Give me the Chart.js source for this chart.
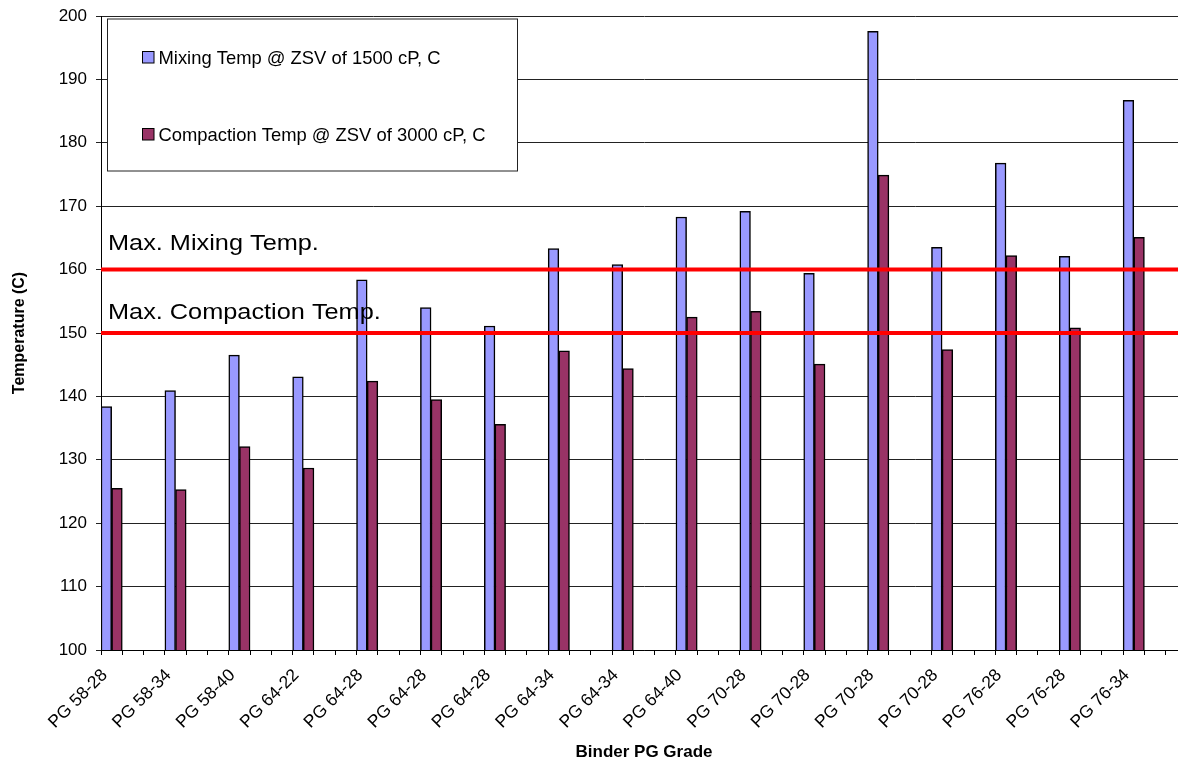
<!DOCTYPE html>
<html>
<head>
<meta charset="utf-8">
<title>Mixing and Compaction Temperatures by Binder PG Grade</title>
<style>
  html, body { margin: 0; padding: 0; overflow: hidden; background: #ffffff; }
  #wrap { width: 1200px; height: 764px; }
</style>
<script src="https://cdn.jsdelivr.net/npm/chart.js@4.4.1/dist/chart.umd.min.js"></script>
</head>
<body>
<div id="wrap"><canvas id="chart" width="1200" height="764"></canvas></div>
<script>
// Binder grades along the category axis
const grades = [
  'PG 58-28', 'PG 58-34', 'PG 58-40', 'PG 64-22', 'PG 64-28', 'PG 64-28',
  'PG 64-28', 'PG 64-34', 'PG 64-34', 'PG 64-40', 'PG 70-28', 'PG 70-28',
  'PG 70-28', 'PG 70-28', 'PG 76-28', 'PG 76-28', 'PG 76-34'
];

// Temperatures (C) at zero-shear viscosity targets
const mixingTemp = [
  138.4, 140.9, 146.5, 143.1, 158.4, 154.0, 151.1, 163.3, 160.8,
  168.3, 169.2, 159.4, 197.6, 163.5, 176.8, 162.1, 186.7
];
const compactionTemp = [
  125.5, 125.3, 132.1, 128.7, 142.4, 139.5, 135.6, 147.2, 144.4,
  152.5, 153.4, 145.1, 174.9, 147.4, 162.2, 150.8, 165.1
];

// Specification limits drawn as horizontal red lines
const limitTemps = [160, 150];
const limitNames = ['Max. Mixing Temp.', 'Max. Compaction Temp.'];

// Value axis range
const tempMin = 100;
const tempMax = 200;
const tempStep = 10;

const seriesNames = ['Mixing Temp @ ZSV of 1500 cP, C', 'Compaction Temp @ ZSV of 3000 cP, C'];

// Each grade occupies one slot followed by two blank slots on the axis
const SLOTS_PER_GRADE = 3;
const TOTAL_SLOTS = grades.length * SLOTS_PER_GRADE;
const slotLabels = new Array(TOTAL_SLOTS).fill('');
const mixingSlots = new Array(TOTAL_SLOTS).fill(null);
const compactionSlots = new Array(TOTAL_SLOTS).fill(null);
grades.forEach((g, i) => {
  const k = i * SLOTS_PER_GRADE;
  slotLabels[k] = g;
  mixingSlots[k] = mixingTemp[i];
  compactionSlots[k] = compactionTemp[i];
});

const FONT = '"Liberation Sans", Arial, Helvetica, sans-serif';

// Draws the limit lines with their captions and the boxed legend
const overlayPlugin = {
  id: 'overlay',
  afterDatasetsDraw(chart, args, opts) {
    const { ctx, chartArea: a, scales: { y } } = chart;
    ctx.save();

    limitTemps.forEach((t, i) => {
      const py = y.getPixelForValue(t);
      ctx.strokeStyle = '#ff0000';
      ctx.lineWidth = 4;
      ctx.beginPath();
      ctx.moveTo(a.left, py);
      ctx.lineTo(a.right, py);
      ctx.stroke();

      ctx.save();
      ctx.font = '22px ' + FONT;
      ctx.fillStyle = '#000000';
      ctx.textBaseline = 'alphabetic';
      ctx.textAlign = 'left';
      ctx.translate(a.left + 7, py - opts.captionLift[i]);
      ctx.scale(1.15, 1);
      ctx.fillText(limitNames[i], 0, 0);
      ctx.restore();
    });

    // legend box
    const bx = a.left + 6.5, by = a.top + 3, bw = 410, bh = 152;
    ctx.fillStyle = '#ffffff';
    ctx.fillRect(bx, by, bw, bh);
    ctx.strokeStyle = '#222222';
    ctx.lineWidth = 1;
    ctx.strokeRect(bx, by, bw, bh);

    ctx.font = '18.4px ' + FONT;
    ctx.textBaseline = 'middle';
    ctx.textAlign = 'left';
    chart.data.datasets.forEach((ds, i) => {
      const cy = by + 38.5 + i * 77;
      ctx.fillStyle = ds.backgroundColor;
      ctx.fillRect(bx + 35, cy - 6, 11.5, 11.5);
      ctx.strokeStyle = '#000000';
      ctx.strokeRect(bx + 35, cy - 6, 11.5, 11.5);
      ctx.fillStyle = '#000000';
      ctx.fillText(ds.label, bx + 51, cy + 1);
    });

    ctx.restore();
  }
};

new Chart(document.getElementById('chart'), {
  type: 'bar',
  data: {
    labels: slotLabels,
    datasets: [
      {
        label: seriesNames[0],
        data: mixingSlots,
        backgroundColor: '#9999ff',
        borderColor: '#000000',
        borderWidth: 1.5,
        categoryPercentage: 1,
        barPercentage: 1
      },
      {
        label: seriesNames[1],
        data: compactionSlots,
        backgroundColor: '#993366',
        borderColor: '#000000',
        borderWidth: 1.5,
        categoryPercentage: 1,
        barPercentage: 1
      }
    ]
  },
  options: {
    responsive: false,
    animation: false,
    devicePixelRatio: 1,
    layout: { padding: { top: 16, right: 13, left: 0, bottom: 0 } },
    plugins: {
      legend: { display: false },
      tooltip: { enabled: false },
      overlay: { captionLift: [20, 14] }
    },
    scales: {
      x: {
        type: 'category',
        offset: true,
        grid: {
          offset: true,
          drawOnChartArea: false,
          drawTicks: true,
          tickLength: 5,
          color: '#000000',
          lineWidth: 1
        },
        border: { color: '#000000', width: 1 },
        ticks: {
          autoSkip: false,
          minRotation: 45,
          maxRotation: 45,
          padding: 10,
          labelOffset: -7,
          color: '#000000',
          font: { family: FONT, size: 17.5 }
        },
        title: {
          display: true,
          text: 'Binder PG Grade',
          color: '#000000',
          font: { family: FONT, size: 17, weight: 'bold' },
          padding: { top: 0, bottom: 1 }
        },
        afterFit(scale) {
          scale.height = 114;
          scale.paddingLeft = 0;
          scale.paddingRight = 0;
        }
      },
      y: {
        min: tempMin,
        max: tempMax,
        grid: { color: '#222222', lineWidth: 1, tickLength: 5 },
        border: { color: '#000000', width: 1 },
        ticks: {
          stepSize: tempStep,
          padding: 9,
          color: '#000000',
          font: { family: FONT, size: 17 }
        },
        title: {
          display: true,
          text: 'Temperature (C)',
          color: '#000000',
          font: { family: FONT, size: 16, weight: 'bold' },
          padding: { top: 10, bottom: 0 }
        },
        afterFit(scale) {
          scale.width = 101;
          scale.paddingTop = 0;
          scale.paddingBottom = 0;
        }
      }
    }
  },
  plugins: [overlayPlugin]
});
</script>
</body>
</html>
